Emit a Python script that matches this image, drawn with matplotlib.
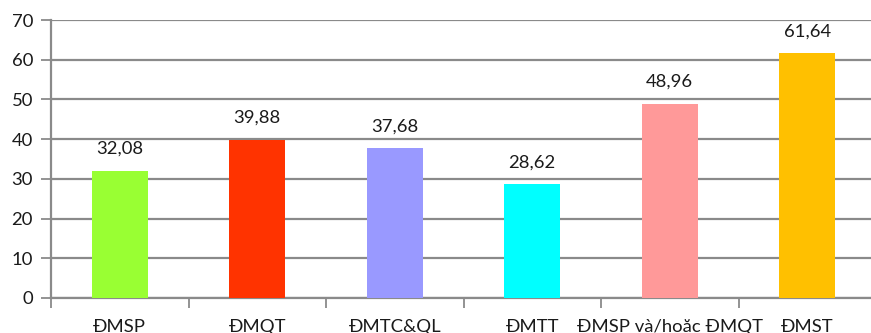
import matplotlib
matplotlib.use("Agg")
import matplotlib.pyplot as plt
import numpy as np

categories = ["ĐMSP", "ĐMQT", "ĐMTC&QL", "ĐMTT", "ĐMSP và/hoặc ĐMQT", "ĐMST"]
values = [32.08, 39.88, 37.68, 28.62, 48.96, 61.64]
value_labels = ["32,08", "39,88", "37,68", "28,62", "48,96", "61,64"]
colors = ["#99FF33", "#FF3300", "#9999FF", "#00FFFF", "#FF9999", "#FFC000"]
yticks = [0, 10, 20, 30, 40, 50, 60, 70]

plt.rcParams["font.family"] = ["Lato", "Open Sans", "DejaVu Sans"]
grid_col = "#8A8A8A"
fs = 13.3

W, H = 871, 333
fig = plt.figure(figsize=(W / 100, H / 100), dpi=100)
left, right, bottom, top = 51, 876, 298, 20
ax = fig.add_axes([left / W, (H - bottom) / H, (right - left) / W, (bottom - top) / H])

x = np.arange(len(categories))
ax.bar(x, values, width=0.41, color=colors, zorder=3)

for xi, v, lab in zip(x, values, value_labels):
    ax.annotate(lab, (xi, v), xytext=(0, 10), textcoords="offset points",
                ha="center", va="bottom", fontsize=fs, color="#1a1a1a")

ax.set_xlim(-0.5, len(categories) - 0.5)
ax.set_ylim(0, 70)
ax.set_yticks(yticks)
ax.set_yticklabels([str(t) for t in yticks])
ax.yaxis.grid(True, color=grid_col, linewidth=1.6, zorder=0)
ax.set_axisbelow(True)

# category boundaries get tick marks, centers get labels
ax.set_xticks(np.arange(len(categories) + 1) - 0.5)
ax.set_xticklabels([])
ax.set_xticks(x, minor=True)
ax.set_xticklabels(categories, minor=True)
ax.tick_params(axis="x", which="major", length=7, width=1.3, color=grid_col, direction="out")
ax.tick_params(axis="x", which="minor", length=0, pad=15, labelsize=fs, labelcolor="#1a1a1a")
ax.tick_params(axis="y", length=7, width=1.3, color=grid_col, direction="out",
               labelsize=fs, labelcolor="#1a1a1a", pad=6)

for s in ["top", "right"]:
    ax.spines[s].set_visible(False)
for s in ["left", "bottom"]:
    ax.spines[s].set_color(grid_col)
    ax.spines[s].set_linewidth(1.6)

fig.savefig("out.png", dpi=100)
